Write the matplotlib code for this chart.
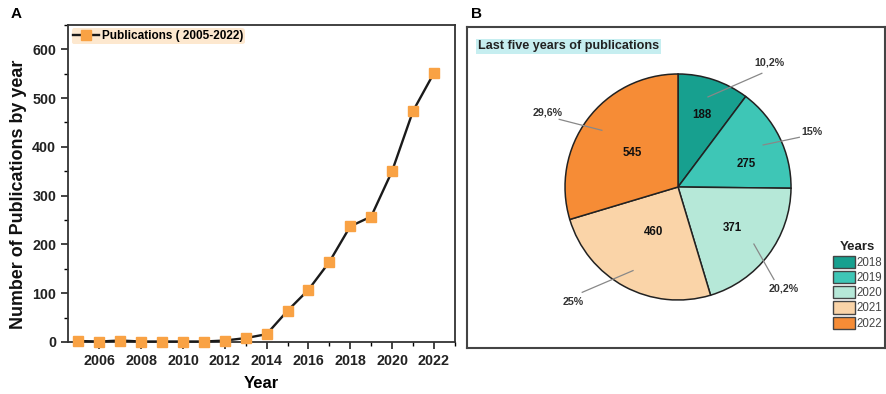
import numpy as np
import matplotlib
matplotlib.use("Agg")
import matplotlib.pyplot as plt
from matplotlib.patches import Patch
from matplotlib.ticker import MultipleLocator

plt.rcParams['font.family'] = ['Liberation Sans', 'DejaVu Sans']

# Publications per year (line chart)
years = [2005, 2006, 2007, 2008, 2009, 2010, 2011, 2012, 2013,
         2014, 2015, 2016, 2017, 2018, 2019, 2020, 2021, 2022]
publications = [2, 1, 3, 1, 1, 1, 1, 3, 8,
                16, 64, 107, 164, 237, 257, 350, 473, 551]
line_label = "Publications ( 2005-2022)"

# Last five years (pie chart)
pie_years = ["2018", "2019", "2020", "2021", "2022"]
pie_counts = [188, 275, 371, 460, 545]
pie_pct_text = ["10,2%", "15%", "20,2%", "25%", "29,6%"]
pie_colors = ["#17a08f", "#3ec6b6", "#b6e8d8", "#fad4a8", "#f68c36"]

fig = plt.figure(figsize=(8.87, 3.94), dpi=100)

# ---------------- Panel A ----------------
axA = fig.add_axes([0.0767, 0.132, 0.436, 0.805])
axA.plot(years, publications, color="#1a1a1a", lw=1.7, marker="s",
         markersize=6.8, markerfacecolor="#f9a244", markeredgecolor="#f9a244",
         label=line_label, clip_on=False, zorder=3)
axA.set_xlim(2004.5, 2023)
axA.set_ylim(0, 650)
axA.xaxis.set_minor_locator(MultipleLocator(1))
axA.yaxis.set_major_locator(MultipleLocator(100))
axA.yaxis.set_minor_locator(MultipleLocator(50))
axA.set_xticks(list(range(2006, 2023, 2)))
axA.set_xticklabels([str(y) for y in range(2006, 2023, 2)])
axA.tick_params(which="major", direction="out", length=5, width=1.2,
                labelsize=10.3, colors="#222222")
axA.tick_params(which="minor", direction="out", length=3, width=1)
for lab in axA.get_xticklabels() + axA.get_yticklabels():
    lab.set_fontweight("bold")
for s in axA.spines.values():
    s.set_linewidth(1.3)
    s.set_color("#333333")
axA.set_xlabel("Year", fontsize=12, fontweight="bold", labelpad=6)
axA.set_ylabel("Number of Publications by year", fontsize=12.9,
               fontweight="bold", color="#111111")
axA.yaxis.set_label_coords(-0.107, 0.465)
legA = axA.legend(loc="upper left", frameon=True,
                  prop={"weight": "bold", "size": 8.5}, handlelength=2.2,
                  borderpad=0.15, borderaxespad=0.3, handletextpad=0.2)
legA.get_frame().set_facecolor("#fde8cf")
legA.get_frame().set_edgecolor("none")
legA.get_frame().set_alpha(1)
fig.text(0.012, 0.955, "A", fontsize=11, fontweight="bold")

# ---------------- Panel B ----------------
axB = fig.add_axes([0.527, 0.117, 0.471, 0.814])
axB.set_xticks([])
axB.set_yticks([])
for s in axB.spines.values():
    s.set_linewidth(1.5)
    s.set_color("#444444")
axB.text(0.025, 0.94, "Last five years of publications", transform=axB.transAxes,
         fontsize=9.1, fontweight="bold", color="#222222", va="center",
         bbox=dict(boxstyle="square,pad=0.15", facecolor="#c6eef0",
                   edgecolor="none"))
fig.text(0.531, 0.955, "B", fontsize=11, fontweight="bold")

axP = fig.add_axes([0.637, 0.2386, 0.2548, 0.5736])
wedges, _ = axP.pie(pie_counts, colors=pie_colors, startangle=90,
                    counterclock=False, radius=1,
                    wedgeprops=dict(edgecolor="#222222", linewidth=1.1))
axP.set_xlim(-1, 1)
axP.set_ylim(-1, 1)
axP.set_aspect("equal")
axP.axis("off")

# label placement (layout only)
inner_r = [0.67, 0.64, 0.6, 0.45, 0.5]
inner_shift = [0, -8, 0, 0, 0]
outer_shift = [-18, -4, -7, -14, 7]
outer_r = [1.37, 1.28, 1.30, 1.38, 1.33]
for w, cnt, pct, ir, ish, osh, orr in zip(wedges, pie_counts, pie_pct_text,
                                          inner_r, inner_shift, outer_shift,
                                          outer_r):
    mid = np.deg2rad((w.theta1 + w.theta2) / 2)
    a_in = mid + np.deg2rad(ish)
    axP.text(ir * np.cos(a_in), ir * np.sin(a_in), str(cnt), ha="center",
             va="center", fontsize=8.3, fontweight="bold", color="#111111")
    a_out = mid + np.deg2rad(osh)
    tx, ty = orr * np.cos(a_out), orr * np.sin(a_out)
    sx, sy = 0.84 * np.cos(mid), 0.84 * np.sin(mid)
    ex, ey = (orr - 0.12) * np.cos(a_out), (orr - 0.12) * np.sin(a_out)
    axP.plot([sx, ex], [sy, ey], color="#888888", lw=0.9, clip_on=False)
    axP.text(tx, ty, pct, ha="center", va="center", fontsize=7.7,
             fontweight="bold", color="#333333", clip_on=False)

handles = [Patch(facecolor=c, edgecolor="#444444", linewidth=1.0)
           for c in pie_colors]
legB = fig.legend(handles, pie_years, loc="upper left",
                  bbox_to_anchor=(0.931, 0.405), frameon=False, fontsize=8.3,
                  title="Years", handlelength=1.9, handleheight=1.25,
                  labelspacing=0.2, handletextpad=0.15, borderpad=0.1)
legB.get_title().set_fontweight("bold")
legB.get_title().set_fontsize(9.5)
legB.get_title().set_color("#222222")
for t in legB.get_texts():
    t.set_color("#444444")

fig.savefig("out.png", dpi=100)
